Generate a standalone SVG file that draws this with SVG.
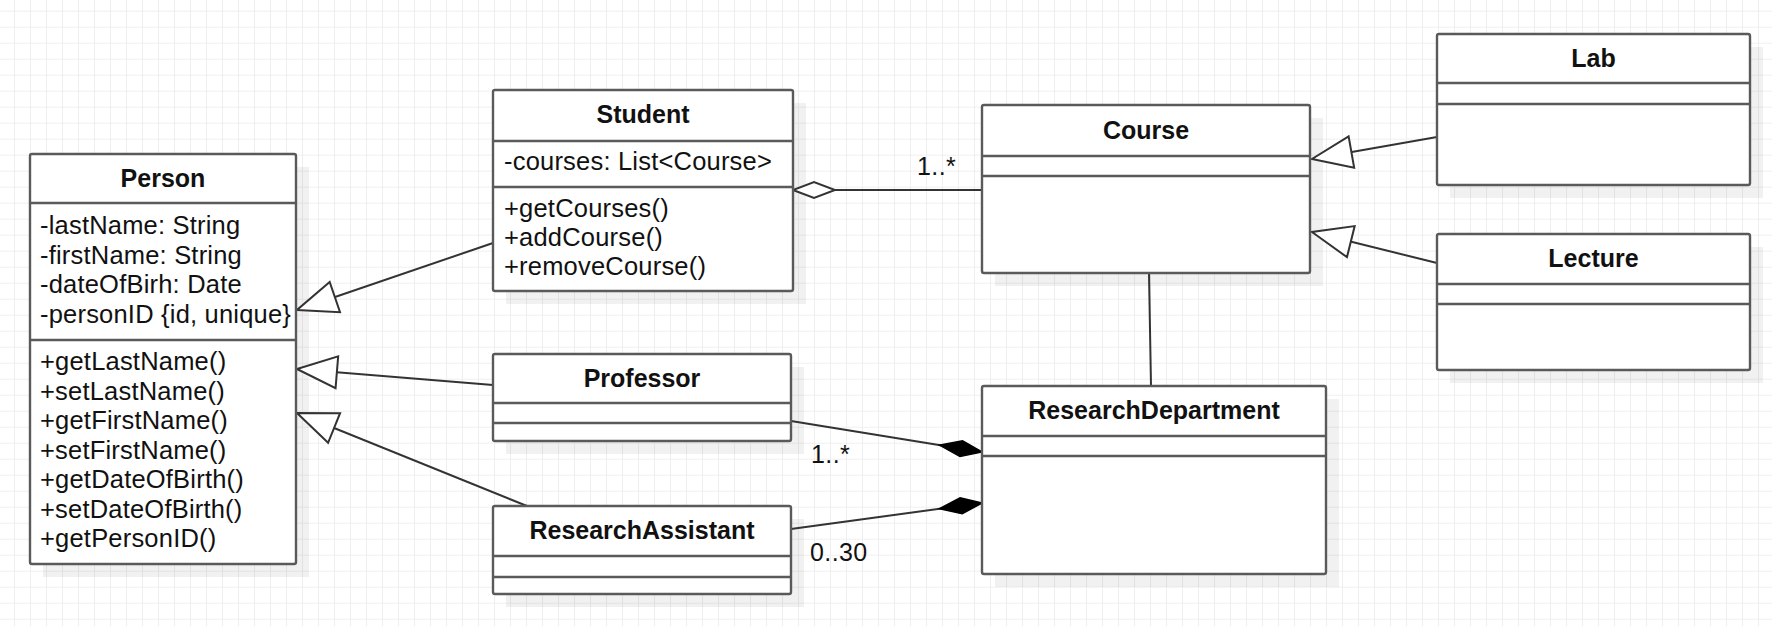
<svg xmlns="http://www.w3.org/2000/svg" width="1772" height="626" viewBox="0 0 1772 626">
<defs>
<pattern id="grid" x="14" y="10.7" width="16" height="16" patternUnits="userSpaceOnUse">
<path d="M0,0 H16 M0,0 V16" fill="none" stroke="#ebebeb" stroke-width="1.6"/>
</pattern>
<marker id="gen" markerUnits="userSpaceOnUse" viewBox="-44 -19 46 38" refX="0" refY="0" markerWidth="46" markerHeight="38" orient="auto">
<path d="M0,0 L-40,-16 L-40,16 Z" fill="#fff" stroke="#333" stroke-width="2"/>
</marker>
<marker id="agg" markerUnits="userSpaceOnUse" viewBox="-46 -11 48 22" refX="0" refY="0" markerWidth="48" markerHeight="22" orient="auto-start-reverse">
<path d="M0,0 L-21,-8 L-42,0 L-21,8 Z" fill="#fff" stroke="#333" stroke-width="2"/>
</marker>
<marker id="comp" markerUnits="userSpaceOnUse" viewBox="-46 -11 48 22" refX="0" refY="0" markerWidth="48" markerHeight="22" orient="auto">
<path d="M0,0 L-21,-8 L-43,0 L-21,8 Z" fill="#000" stroke="#000" stroke-width="1.5"/>
</marker>
</defs>
<style>
.box{fill:#fff;stroke:#5a5a5a;stroke-width:2.4}
.sh{fill:#000;opacity:0.055}
.div{stroke:#5a5a5a;stroke-width:2.4}
.t{font-family:"Liberation Sans",Arial,sans-serif;font-size:25px;font-weight:bold;fill:#111;text-anchor:middle}
.m{font-family:"Liberation Sans",Arial,sans-serif;font-size:25.5px;letter-spacing:0.2px;fill:#111}
.mult{font-family:"Liberation Sans",Arial,sans-serif;font-size:25px;letter-spacing:0.4px;fill:#111}
.c{fill:none;stroke:#333;stroke-width:2}
</style>
<rect width="1772" height="626" fill="#fff"/>
<rect width="1772" height="626" fill="url(#grid)"/>
<g id="shadows">
<rect class="sh" x="43" y="167" width="266" height="410"/>
<rect class="sh" x="506" y="103" width="300" height="201"/>
<rect class="sh" x="506" y="367" width="298" height="87"/>
<rect class="sh" x="506" y="519" width="298" height="88"/>
<rect class="sh" x="995" y="118" width="328" height="168"/>
<rect class="sh" x="995" y="399" width="344" height="188"/>
<rect class="sh" x="1450" y="47" width="313" height="151"/>
<rect class="sh" x="1450" y="247" width="313" height="136"/>
</g>
<g id="connectors">
<path class="c" d="M493,243 L297,310" marker-end="url(#gen)"/>
<path class="c" d="M493,385 L297,369" marker-end="url(#gen)"/>
<path class="c" d="M527,506 L297,413" marker-end="url(#gen)"/>
<path class="c" d="M1437,137 L1312,159" marker-end="url(#gen)"/>
<path class="c" d="M1437,263 L1312,232" marker-end="url(#gen)"/>
<path class="c" d="M793,190 L982,190" marker-start="url(#agg)"/>
<path class="c" d="M791,421 L982,452" marker-end="url(#comp)"/>
<path class="c" d="M791,529 L982,503" marker-end="url(#comp)"/>
<path class="c" d="M1149,273 L1151,386"/>
<text class="mult" x="917" y="175">1..*</text>
<text class="mult" x="811" y="463">1..*</text>
<text class="mult" x="810" y="561">0..30</text>
</g>
<g id="Person">
<rect class="box" x="30" y="154" width="266" height="410" rx="2"/>
<line class="div" x1="30" y1="203" x2="296" y2="203"/>
<line class="div" x1="30" y1="340" x2="296" y2="340"/>
<text class="t" x="163" y="187">Person</text>
<text class="m" x="40" y="234">-lastName: String</text>
<text class="m" x="40" y="263.5">-firstName: String</text>
<text class="m" x="40" y="293">-dateOfBirh: Date</text>
<text class="m" x="40" y="322.5">-personID {id, unique}</text>
<text class="m" x="40" y="370">+getLastName()</text>
<text class="m" x="40" y="399.5">+setLastName()</text>
<text class="m" x="40" y="429">+getFirstName()</text>
<text class="m" x="40" y="458.5">+setFirstName()</text>
<text class="m" x="40" y="488">+getDateOfBirth()</text>
<text class="m" x="40" y="517.5">+setDateOfBirth()</text>
<text class="m" x="40" y="547">+getPersonID()</text>
</g>
<g id="Student">
<rect class="box" x="493" y="90" width="300" height="201" rx="2"/>
<line class="div" x1="493" y1="141" x2="793" y2="141"/>
<line class="div" x1="493" y1="187" x2="793" y2="187"/>
<text class="t" x="643" y="123">Student</text>
<text class="m" x="504" y="170">-courses: List&lt;Course&gt;</text>
<text class="m" x="504" y="217">+getCourses()</text>
<text class="m" x="504" y="246">+addCourse()</text>
<text class="m" x="504" y="275">+removeCourse()</text>
</g>
<g id="Professor">
<rect class="box" x="493" y="354" width="298" height="87" rx="2"/>
<line class="div" x1="493" y1="403" x2="791" y2="403"/>
<line class="div" x1="493" y1="423" x2="791" y2="423"/>
<text class="t" x="642" y="387">Professor</text>
</g>
<g id="ResearchAssistant">
<rect class="box" x="493" y="506" width="298" height="88" rx="2"/>
<line class="div" x1="493" y1="556" x2="791" y2="556"/>
<line class="div" x1="493" y1="577" x2="791" y2="577"/>
<text class="t" x="642" y="539">ResearchAssistant</text>
</g>
<g id="Course">
<rect class="box" x="982" y="105" width="328" height="168" rx="2"/>
<line class="div" x1="982" y1="156" x2="1310" y2="156"/>
<line class="div" x1="982" y1="176" x2="1310" y2="176"/>
<text class="t" x="1146" y="139">Course</text>
</g>
<g id="ResearchDepartment">
<rect class="box" x="982" y="386" width="344" height="188" rx="2"/>
<line class="div" x1="982" y1="436" x2="1326" y2="436"/>
<line class="div" x1="982" y1="456" x2="1326" y2="456"/>
<text class="t" x="1154" y="419">ResearchDepartment</text>
</g>
<g id="Lab">
<rect class="box" x="1437" y="34" width="313" height="151" rx="2"/>
<line class="div" x1="1437" y1="83" x2="1750" y2="83"/>
<line class="div" x1="1437" y1="104" x2="1750" y2="104"/>
<text class="t" x="1593.5" y="67">Lab</text>
</g>
<g id="Lecture">
<rect class="box" x="1437" y="234" width="313" height="136" rx="2"/>
<line class="div" x1="1437" y1="284" x2="1750" y2="284"/>
<line class="div" x1="1437" y1="304" x2="1750" y2="304"/>
<text class="t" x="1593.5" y="267">Lecture</text>
</g>
</svg>
